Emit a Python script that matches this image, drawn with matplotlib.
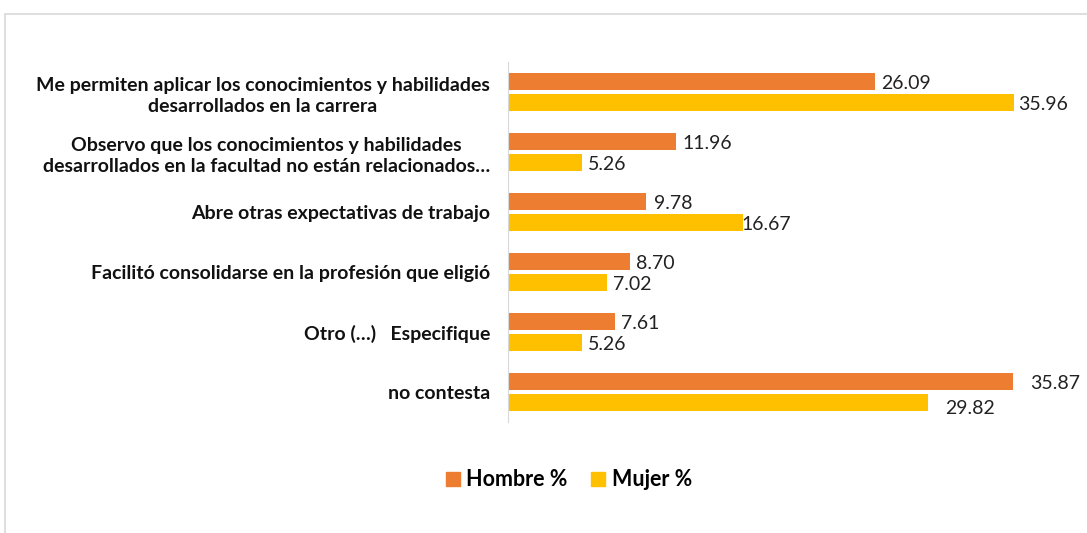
import numpy as np
import matplotlib
matplotlib.use("Agg")
import matplotlib.pyplot as plt
from matplotlib.patches import Patch, Rectangle

plt.rcParams["font.family"] = ["Lato", "DejaVu Sans"]

# datos (de arriba hacia abajo)
categorias = [
    "Me permiten aplicar los conocimientos y habilidades\ndesarrollados en la carrera",
    "Observo que los conocimientos y habilidades\ndesarrollados en la facultad no están relacionados…",
    "Abre otras expectativas de trabajo",
    "Facilitó consolidarse en la profesión que eligió",
    "Otro (…)   Especifique",
    "no contesta",
]
hombre = [26.09, 11.96, 9.78, 8.70, 7.61, 35.87]
mujer = [35.96, 5.26, 16.67, 7.02, 5.26, 29.82]
etiquetas_hombre = ["26.09", "11.96", "9.78", "8.70", "7.61", "35.87"]
etiquetas_mujer = ["35.96", "5.26", "16.67", "7.02", "5.26", "29.82"]

c_hombre = "#ED7D31"
c_mujer = "#FFC000"

fig = plt.figure(figsize=(10.87, 5.33), dpi=100)
# marco gris del gráfico
fig.patches.append(Rectangle((5 / 1087, -0.05), 1.1, 0.05 + 1 - 14 / 533,
                             transform=fig.transFigure, fill=False,
                             edgecolor="#D9D9D9", linewidth=1.2))

ax = fig.add_axes([508 / 1087, 1 - 422 / 533, 563 / 1087, 360 / 533])

y = np.arange(len(categorias))
h = 0.28
off = 0.172
ax.barh(y - off, hombre, height=h, color=c_hombre, label="Hombre %")
ax.barh(y + off, mujer, height=h, color=c_mujer, label="Mujer %")

# separación de las etiquetas en píxeles (1 unidad ~ 14 px)
pad_h = [6, 6, 8, 6, 6, 17]
pad_m = [4, 6, -1, 6, 6, 17]
for i in range(len(categorias)):
    ax.text(hombre[i] + pad_h[i] / 14.07, y[i] - off + 0.03, etiquetas_hombre[i],
            va="center", ha="left", fontsize=14, color="#222222")
    ax.text(mujer[i] + pad_m[i] / 14.07, y[i] + off + (0.1 if i == 5 else 0.03), etiquetas_mujer[i],
            va="center", ha="left", fontsize=14, color="#222222")

ax.set_xlim(0, 40)
ax.set_ylim(len(categorias) - 0.5, -0.5)
ax.set_yticks(y)
ax.set_yticklabels(categorias, fontsize=14, fontweight="bold", color="#111111")
for t in ax.get_yticklabels():
    t.set_multialignment("center")
    t.set_linespacing(1.35)
ax.tick_params(axis="y", length=0, pad=13)
ax.set_xticks([])
for s in ["top", "right", "bottom"]:
    ax.spines[s].set_visible(False)
ax.spines["left"].set_color("#D9D9D9")

handles = [Patch(color=c_hombre, label="Hombre %"), Patch(color=c_mujer, label="Mujer %")]
fig.legend(handles=handles, loc="center", bbox_to_anchor=(569 / 1087, 1 - 480 / 533),
           ncol=2, frameon=False, handlelength=0.65, handleheight=0.65,
           handletextpad=0.3, columnspacing=1.1,
           prop={"size": 15.5, "weight": "bold"})

fig.savefig("out.png", dpi=100)
